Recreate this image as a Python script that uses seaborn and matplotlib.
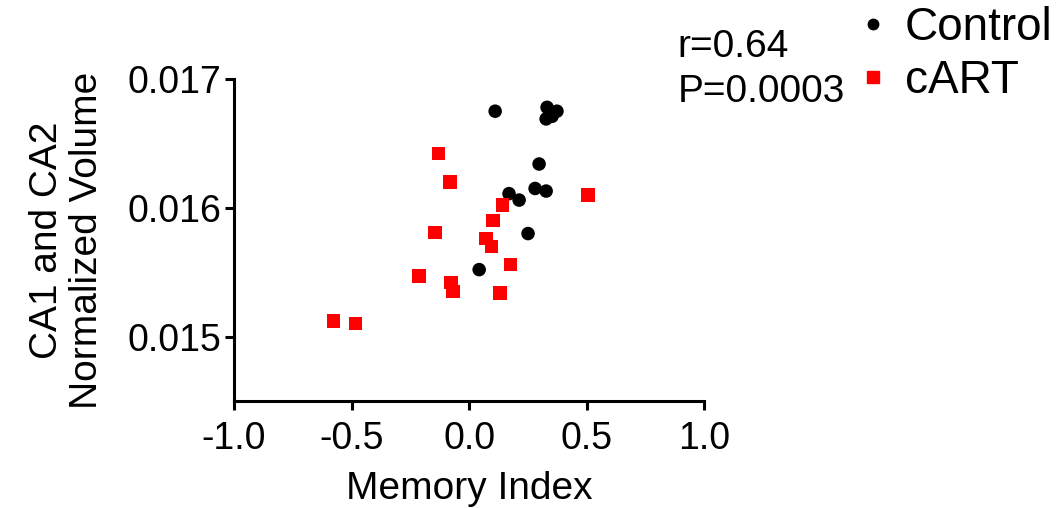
import pandas as pd
import matplotlib
matplotlib.use("Agg")
import matplotlib.pyplot as plt
import seaborn as sns

# values
control_x = [0.111, 0.332, 0.374, 0.328, 0.353, 0.298, 0.170, 0.213, 0.281, 0.328, 0.251, 0.043]
control_y = [0.01675, 0.01678, 0.01675, 0.01669, 0.01671, 0.01634, 0.01611, 0.01606, 0.01615, 0.01613, 0.01580, 0.01552]

cart_x = [-0.131, -0.081, 0.505, 0.142, 0.101, -0.146, 0.072, 0.095, 0.176, -0.213, -0.078, -0.068, 0.131, -0.576, -0.484]
cart_y = [0.01642, 0.01620, 0.01610, 0.01602, 0.01590, 0.01581, 0.01576, 0.01570, 0.01556, 0.01547, 0.01542, 0.01535, 0.01534, 0.01512, 0.01510]

x_ticks = [-1.0, -0.5, 0.0, 0.5, 1.0]
y_ticks = [0.015, 0.016, 0.017]
stats_text = "r=0.64\nP=0.0003"

data = pd.DataFrame({
    "Memory Index": control_x + cart_x,
    "Volume": control_y + cart_y,
    "Group": ["Control"] * len(control_x) + ["cART"] * len(cart_x),
})

sns.set_style("ticks")
plt.rcParams["font.family"] = ["Liberation Sans", "DejaVu Sans"]
plt.rcParams["text.color"] = "black"
plt.rcParams["axes.labelcolor"] = "black"
plt.rcParams["xtick.color"] = "black"
plt.rcParams["ytick.color"] = "black"
plt.rcParams["axes.edgecolor"] = "black"

fig = plt.figure(figsize=(10.64, 5.08), dpi=100)
ax = fig.add_axes([0.22, 0.2106, 0.4417, 0.6339])

sns.scatterplot(data=data, x="Memory Index", y="Volume", hue="Group", style="Group",
                palette={"Control": "black", "cART": "#ff0000"},
                markers={"Control": "o", "cART": "s"},
                s=95, linewidth=0, ax=ax, legend=False, clip_on=False)

ax.set_xlim(-1.0, 1.0)
ax.set_ylim(0.0145, 0.017)
ax.set_xticks(x_ticks)
ax.set_xticklabels([f"{t:.1f}" for t in x_ticks])
ax.set_yticks(y_ticks)
ax.set_yticklabels([f"{t:.3f}" for t in y_ticks])
sns.despine(ax=ax)
for side in ["left", "bottom"]:
    ax.spines[side].set_linewidth(2.2)
ax.tick_params(axis="both", length=6.5, width=2.2, labelsize=27, direction="out")
ax.tick_params(axis="x", pad=8)
ax.tick_params(axis="y", pad=3)

ax.set_xlabel("Memory Index", fontsize=28, labelpad=10)
ax.set_ylabel("CA1 and CA2\nNormalized Volume", fontsize=28, labelpad=16, linespacing=1.15)

fig.text(0.637, 0.863, stats_text, fontsize=28, ha="left", va="center", linespacing=1.35)

# legend
h_ctrl = plt.Line2D([], [], marker="o", color="black", linestyle="", markersize=7.5)
h_cart = plt.Line2D([], [], marker="s", color="#ff0000", linestyle="", markersize=8.5)
fig.legend([h_ctrl, h_cart], ["Control", "cART"], loc="upper left",
           bbox_to_anchor=(0.780, 1.051), frameon=False, fontsize=33,
           handlelength=0.5, handletextpad=0.43, labelspacing=0.2, borderpad=0.2)

fig.savefig("out.png", dpi=100)
